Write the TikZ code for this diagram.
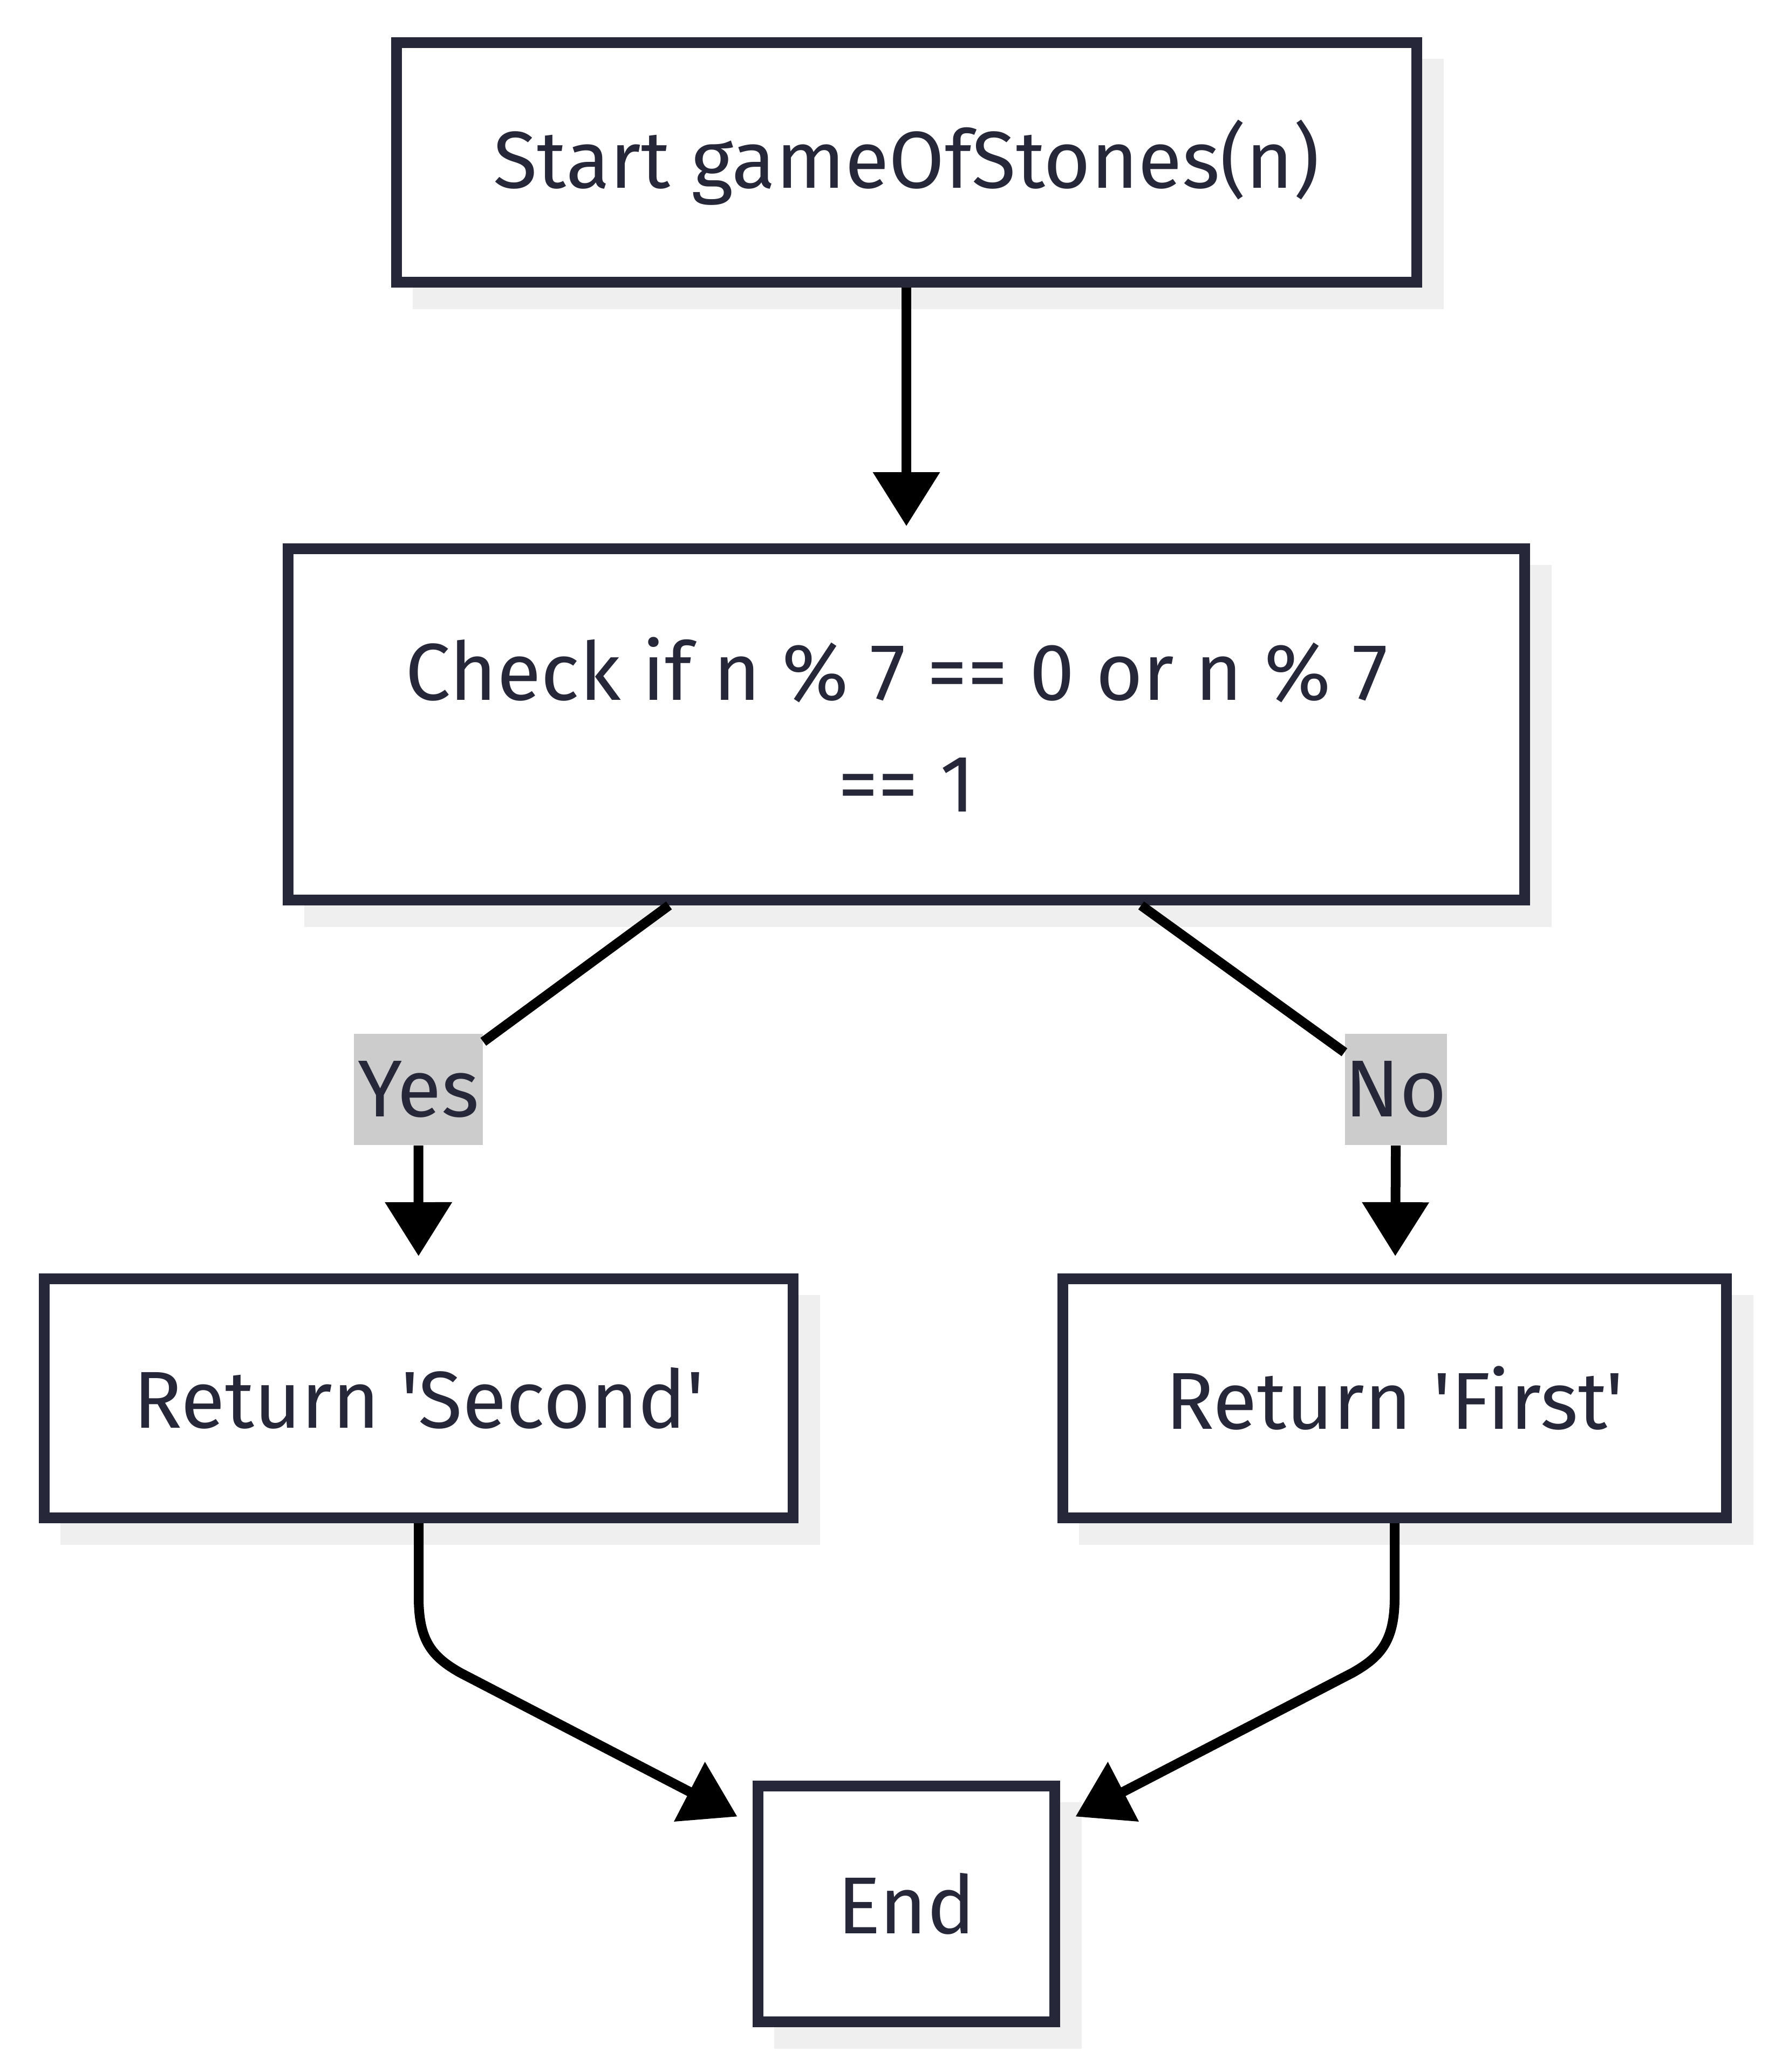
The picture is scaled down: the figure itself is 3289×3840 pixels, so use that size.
\documentclass[tikz,border=0pt]{standalone}
\usepackage{fontspec}
\newfontfamily\nodefont{Fira Sans}
\usetikzlibrary{arrows.meta,backgrounds}
\definecolor{ink}{HTML}{27273A}
\definecolor{shadowgray}{HTML}{EFEFEF}
\definecolor{lblfill}{HTML}{CCCCCC}
\begin{document}
\begin{tikzpicture}[x=0.25pt,y=-0.25pt,
  txt/.style={text=ink, font=\nodefont\fontsize{37.4pt}{51.75pt}\selectfont},
  box/.style={txt, draw=ink, line width=5pt, fill=white, rectangle, inner sep=0pt, align=center},
  lab/.style={txt, fill=lblfill, inner sep=0pt, minimum height=51.5pt},
  conn/.style={draw=black, line width=4.5pt},
  arr/.style={conn, -{Triangle[length=25pt,width=30pt]}, shorten >=8pt}]
\useasboundingbox (0,0) rectangle (3289,3840);
\node[box, minimum width=472.75pt, minimum height=111pt] (start) at (1680,301) {Start gameOfStones(n)};
\node[box, minimum width=573pt, minimum height=162.75pt] (check) at (1680,1342.5) {Check if n \% 7 == 0 or n \% 7\hspace*{9pt}\\== 1};
\node[box, minimum width=347pt, minimum height=110.75pt] (second) at (776,2591.5) {Return 'Second'};
\node[box, minimum width=307.5pt, minimum height=110.75pt] (first) at (2585,2591.5) {Return 'First'};
\node[box, minimum width=137.5pt, minimum height=109.25pt] (stop) at (1680,3528.5) {End};
\begin{scope}[on background layer]
\foreach \n in {start,check,second,first,stop}
  \fill[shadowgray] ([shift={(40,40)}]\n.north west) rectangle ([shift={(40,40)}]\n.south east);
\end{scope}
\node[lab, minimum width=59.75pt] (yes) at (775.5,2019) {Yes};
\node[lab, minimum width=44.75pt] (no) at (2587.5,2019) {No};
\draw[arr] (start) -- (check);
\draw[conn] ([xshift=-110pt]check.south) -- (yes);
\draw[arr] (yes) -- (second);
\draw[conn] ([xshift=108.75pt]check.south) -- (no);
\draw[arr] (no) -- (first);
\draw[arr] (second.south) -- (776,2960) .. controls (776,3040) and (800,3070) .. (853,3100) -- (stop);
\draw[arr] (first.south) -- (2585,2960) .. controls (2585,3040) and (2560,3070) .. (2507,3100) -- (stop);
\end{tikzpicture}
\end{document}
